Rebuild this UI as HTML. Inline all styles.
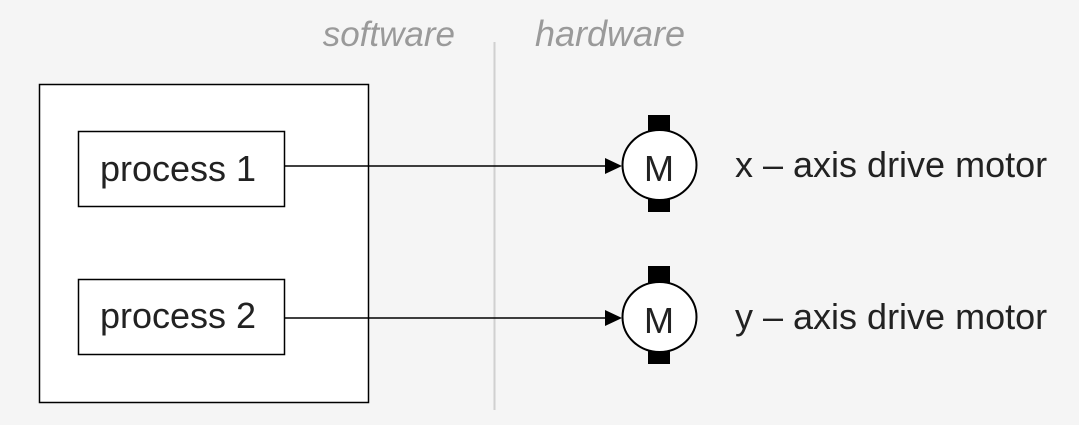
<!DOCTYPE html>
<html><head><meta charset="utf-8"><style>
html,body{margin:0;padding:0;background:#f5f5f5;}
svg{display:block;font-family:"Liberation Sans",Arial,sans-serif;}
</style></head><body>
<svg width="1079" height="425" viewBox="0 0 1079 425">
<text x="455" y="46" text-anchor="end" font-size="35" font-style="italic" fill="#9a9a9a">software</text>
<text x="535" y="46" font-size="36" font-style="italic" fill="#9a9a9a">hardware</text>
<line x1="494.5" y1="42" x2="494.5" y2="410" stroke="#d0d0d0" stroke-width="2"/>
<rect x="39.5" y="84.5" width="329" height="318" fill="#fff" stroke="#000" stroke-width="1.5"/>
<g>
<rect x="78.5" y="131.5" width="206" height="75" fill="#fff" stroke="#000" stroke-width="1.5"/>
<text x="178" y="181" text-anchor="middle" font-size="36" fill="#222">process 1</text>
</g>
<g>
<rect x="78.5" y="279.5" width="206" height="75" fill="#fff" stroke="#000" stroke-width="1.5"/>
<text x="178" y="328" text-anchor="middle" font-size="36" fill="#222">process 2</text>
</g>
<g>
<line x1="285" y1="166" x2="608" y2="166" stroke="#000" stroke-width="1.5"/>
<polygon points="622,166 605,158 605,174" fill="#000"/>
</g>
<g>
<line x1="285" y1="318" x2="608" y2="318" stroke="#000" stroke-width="1.5"/>
<polygon points="622,318 605,310 605,326" fill="#000"/>
</g>
<g>
<rect x="648" y="115" width="22" height="30" fill="#000"/>
<rect x="648" y="185" width="22" height="27" fill="#000"/>
<ellipse cx="659.5" cy="165" rx="37" ry="35" fill="#fff" stroke="#000" stroke-width="2"/>
<text x="659" y="181" text-anchor="middle" font-size="36" fill="#222">M</text>
</g>
<g>
<rect x="648" y="266" width="22" height="30" fill="#000"/>
<rect x="648" y="337" width="22" height="27" fill="#000"/>
<ellipse cx="659.5" cy="317" rx="37" ry="35" fill="#fff" stroke="#000" stroke-width="2"/>
<text x="659" y="333" text-anchor="middle" font-size="36" fill="#222">M</text>
</g>
<text x="735" y="177" font-size="36" fill="#222">x – axis drive motor</text>
<text x="735" y="329" font-size="36" fill="#222">y – axis drive motor</text>
</svg>
</body></html>
